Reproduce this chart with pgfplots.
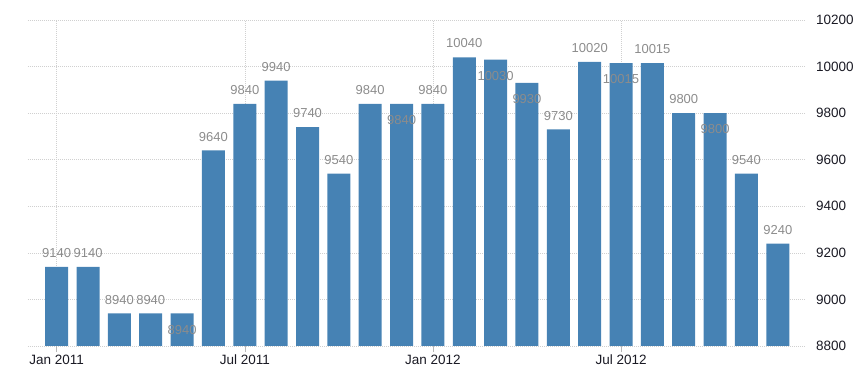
\documentclass[border=0pt]{standalone}
\usepackage{fontspec}
\setmainfont{Liberation Sans}
\usepackage{pgfplots}
\usepackage{pgfplotstable}
\pgfplotsset{compat=1.18}
\definecolor{barblue}{HTML}{4682B4}
\definecolor{lblgray}{HTML}{8C8C8C}
\definecolor{gridgray}{HTML}{D0D0D0}
\definecolor{tickdark}{HTML}{1A1A24}
\pgfplotstableread{
x y
0 9140
1 9140
2 8940
3 8940
5 9640
6 9840
7 9940
8 9740
9 9540
10 9840
12 9840
13 10040
16 9730
17 10020
19 10015
20 9800
22 9540
23 9240
}\abovetable
\pgfplotstableread{
x y
4 8940
11 9840
14 10030
15 9930
18 10015
21 9800
}\insidetable
\begin{document}
\begin{tikzpicture}
\path[use as bounding box] (-28pt,-34pt) rectangle (837pt,346pt);
\begin{axis}[
 at={(0pt,0pt)}, anchor=south west,
 width=778pt, height=326pt, scale only axis,
 xmin=-0.915, xmax=23.9, ymin=8800, ymax=10200,
 ytick={8800,9000,...,10200},
 scaled y ticks=false,
 xtick={0,6,12,18}, xticklabels={Jan 2011, Jul 2011, Jan 2012, Jul 2012},
 xtick pos=bottom, ytick pos=right, yticklabel pos=right,
 axis line style={draw=none},
 grid=major, grid style={gridgray, dash pattern=on 1pt off 1pt, line width=0.6pt},
 tick align=outside, major tick length=6pt,
 xtick style={gridgray!70!gray, line width=0.6pt, dash pattern=},
 ytick style={draw=none},
 /pgf/number format/1000 sep={}, /pgf/number format/assume math mode=true,
 ticklabel style={font=\fontsize{13.5}{15}\selectfont, text=tickdark},
 yticklabel style={anchor=west, inner sep=0pt, xshift=4pt},
 xticklabel style={anchor=north, inner sep=0pt, yshift=-3pt},
 ybar, bar width=23pt, bar shift=0pt,
 nodes near coords,
 nodes near coords style={font=\fontsize{13}{15}\selectfont, text=lblgray, anchor=south, inner sep=0pt},
]
\addplot[fill=barblue, draw=none, every node near coord/.append style={yshift=9pt}]
 table[x=x,y=y]{\abovetable};
\addplot[fill=barblue, draw=none, every node near coord/.append style={yshift=-21pt}]
 table[x=x,y=y]{\insidetable};
\end{axis}
\end{tikzpicture}
\end{document}
